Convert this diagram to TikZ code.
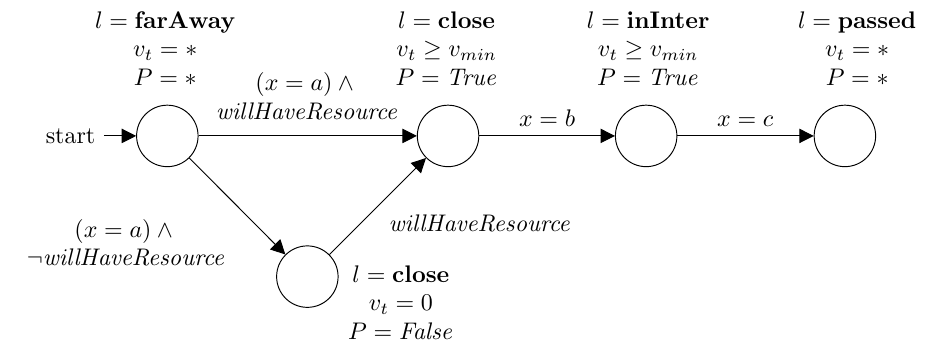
\documentclass[tikz,border=0pt]{standalone}
\usepackage{amsmath,amssymb}
\usepackage{tikz}
\usetikzlibrary{arrows.meta}

\begin{document}
\begin{tikzpicture}[>={Triangle[length=6pt,width=6pt]},
    state/.style={circle, draw, minimum size=0.9cm, inner sep=0pt},
    info/.style={align=center, inner sep=0pt}]
    \useasboundingbox (0,0) rectangle (13.66,4.99);

    % States
    \node[state] (q0) at (2.45, 3.00) {};
    \node[state] (q1) at (6.56, 3.00) {};
    \node[state] (q2) at (9.46, 3.00) {};
    \node[state] (q3) at (12.37, 3.00) {};
    \node[state] (q4) at (4.50, 0.94) {};
    \node[anchor=east] (start) at (1.52, 3.00) {start};

    % State descriptions
    \node[info, anchor=north] (i0) at (2.42, 4.83) {$l = \mathbf{farAway}$\\ $v_t = *$\\ $P = *$};
    \node[info, anchor=north] (i1) at (6.54, 4.83) {$l = \mathbf{close}$\\ $v_t \geq v_{min}$\\ $P = \mathit{True}$};
    \node[info, anchor=north] (i2) at (9.49, 4.83) {$l = \mathbf{inInter}$\\ $v_t \geq v_{min}$\\ $P = \mathit{True}$};
    \node[info, anchor=north] (i3) at (12.55, 4.83) {$l = \mathbf{passed}$\\ $v_t = *$\\ $P = *$};
    \node[info, anchor=north] (i4) at (5.87, 1.11) {$l = \mathbf{close}$\\ $v_t = 0$\\ $P = \mathit{False}$};

    % Transitions
    \draw[->] (start) -- (q0);
    \draw[->] (q0) -- (q1);
    \draw[->] (q1) -- (q2);
    \draw[->] (q2) -- (q3);
    \draw[->] (q0) -- (q4);
    \draw[->] (q4) -- (q1);

    % Transition labels
    \node[info, anchor=north] (t01) at (4.50, 3.93) {$(x = a) \wedge{}$\\ $\mathit{willHaveResource}$};
    \node[info, anchor=north] (t04) at (1.85, 1.79) {$(x = a) \wedge{}$\\ $\neg\mathit{willHaveResource}$};
    \node[anchor=base, inner sep=0pt] (t41) at (7.03, 1.60) {$\mathit{willHaveResource}$};
    \node[anchor=base, inner sep=0pt] (t12) at (8.01, 3.14) {$x = b$};
    \node[anchor=base, inner sep=0pt] (t23) at (10.91, 3.14) {$x = c$};
\end{tikzpicture}
\end{document}
